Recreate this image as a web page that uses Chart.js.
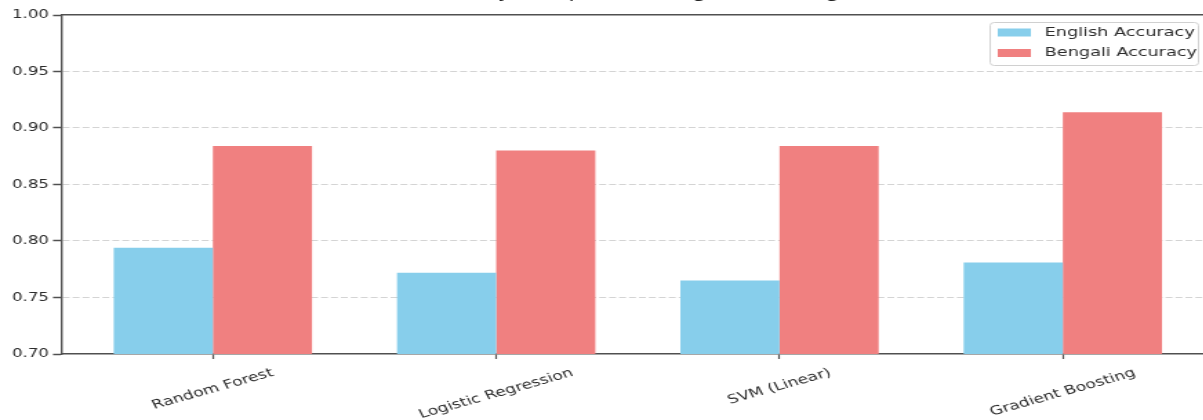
<!DOCTYPE html>
<html>
<head>
<meta charset="utf-8">
<title>Accuracy Comparison</title>
<script src="https://cdn.jsdelivr.net/npm/chart.js@4.4.1/dist/chart.umd.min.js"></script>
<style>
html,body{margin:0;padding:0;background:#fff;overflow:hidden;width:1203px;height:420px;}
/* the source picture is stretched sideways, so draw narrow and scale x */
#wrap{position:absolute;left:0;top:-20px;width:900px;height:440px;transform:scaleX(1.38);transform-origin:0 0;}
</style>
</head>
<body>
<div id="wrap"><canvas id="acc_chart"></canvas></div>
<script>
// data
const models=['Random Forest','Logistic Regression','SVM (Linear)','Gradient Boosting'];
const english_acc=[0.794,0.772,0.765,0.781];
const bengali_acc=[0.884,0.880,0.884,0.914];
const series_names=['English Accuracy','Bengali Accuracy'];
const series_colors=['#87CEEB','#F08080'];
const chart_title='Accuracy Comparison: English vs Bengali';
const y_min=0.70, y_max=1.00, y_step=0.05;

const FONT='"DejaVu Sans"';
const AXIS='#505050';
const TEXT='#2b2b2b';

Chart.defaults.font.family=FONT;
Chart.defaults.color=TEXT;

// x range like matplotlib (bars of 0.35 + 5% margin)
const x_min=-0.535, x_max=models.length-1+0.535;

function isEdge(v){
	return Math.abs(v-y_min)<1e-6 || Math.abs(v-y_max)<1e-6;
}

// category names drawn rotated and centred under each tick
const rotatedLabels={
	id:'rotatedLabels',
	afterDraw(chart){
		const ctx=chart.ctx, xs=chart.scales.x, area=chart.chartArea;
		const ang=21*Math.PI/180;
		ctx.save();
		ctx.font='12.4px '+FONT;
		ctx.fillStyle=TEXT;
		ctx.textAlign='center';
		ctx.textBaseline='middle';
		xs.ticks.forEach(t=>{
			const name=models[t.value];
			if(name===undefined) return;
			const w=ctx.measureText(name).width;
			const half=(w*Math.sin(ang)+14*Math.cos(ang))/2;
			ctx.save();
			ctx.translate(xs.getPixelForValue(t.value),area.bottom+12+half);
			ctx.rotate(-ang);
			ctx.fillText(name,0,0);
			ctx.restore();
		});
		ctx.restore();
	}
};

// framed legend in the upper right of the plot
const legendBox={
	id:'legendBox',
	afterDraw(chart){
		const ctx=chart.ctx, area=chart.chartArea;
		const w=151, h=43;
		const left=area.right-12-w, top=area.top+7;
		ctx.save();
		ctx.fillStyle='rgba(255,255,255,0.8)';
		ctx.strokeStyle='#d0d0d0';
		ctx.lineWidth=1;
		ctx.beginPath();
		ctx.roundRect(left+0.5,top+0.5,w,h,3);
		ctx.fill();
		ctx.stroke();
		ctx.font='12.8px '+FONT;
		ctx.textBaseline='middle';
		ctx.textAlign='left';
		chart.data.datasets.forEach((ds,i)=>{
			const cy=top+10.5+i*20.5;
			ctx.fillStyle=ds.backgroundColor;
			ctx.fillRect(left+6,cy-4,24,8);
			ctx.fillStyle=TEXT;
			ctx.fillText(ds.label,left+40,cy);
		});
		ctx.restore();
	}
};

const ctx=document.getElementById('acc_chart').getContext('2d');

const my_chart=new Chart(ctx,{
	type:'bar',
	data:{
		datasets:[{
			label:series_names[0],
			data:english_acc.map((v,i)=>({x:i,y:v})),
			backgroundColor:series_colors[0],
			borderWidth:0
		},{
			label:series_names[1],
			data:bengali_acc.map((v,i)=>({x:i,y:v})),
			backgroundColor:series_colors[1],
			borderWidth:0
		}]
	},
	options:{
		responsive:true,
		maintainAspectRatio:false,
		animation:false,
		categoryPercentage:0.7,
		barPercentage:1.0,
		layout:{padding:{left:0,right:20,top:0,bottom:0}},
		plugins:{
			legend:{display:false},
			tooltip:{enabled:false},
			title:{
				display:true,
				text:chart_title,
				fullSize:false,
				color:'#222',
				font:{size:16,weight:'normal',family:FONT},
				padding:{top:4,bottom:11.8}
			}
		},
		scales:{
			x:{
				type:'linear',
				min:x_min,
				max:x_max,
				offset:false,
				z:1,
				ticks:{display:false,stepSize:1,includeBounds:false},
				grid:{display:true,offset:false,drawOnChartArea:false,drawTicks:true,tickLength:5,tickColor:AXIS,tickWidth:1.2,color:AXIS},
				border:{display:true,color:AXIS,width:1.5},
				afterFit(s){s.height=66;}
			},
			xTop:{
				type:'linear',
				position:'top',
				min:x_min,
				max:x_max,
				offset:false,
				z:1,
				ticks:{display:false},
				grid:{display:false},
				border:{display:true,color:AXIS,width:1.5},
				afterFit(s){s.height=0;}
			},
			y:{
				min:y_min,
				max:y_max,
				beginAtZero:false,
				ticks:{
					stepSize:y_step,
					padding:3,
					color:TEXT,
					font:{size:12,family:FONT},
					callback:v=>v.toFixed(2)
				},
				grid:{
					color:c=>(c.tick && isEdge(c.tick.value))?'rgba(0,0,0,0)':'#d4d4d4',
					lineWidth:1,
					drawTicks:true,
					tickLength:6,
					tickColor:AXIS,
					tickWidth:1.5
				},
				border:{display:true,color:AXIS,width:1.4,dash:[5,2.2]},
				afterFit(s){s.width=44.4;}
			}
		}
	},
	plugins:[rotatedLabels,legendBox]
});
</script>
</body>
</html>
